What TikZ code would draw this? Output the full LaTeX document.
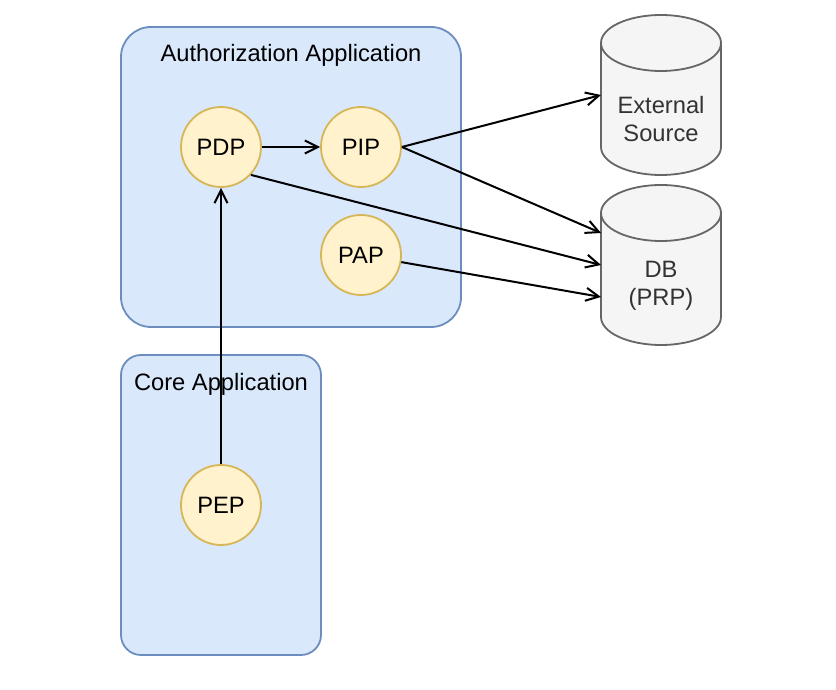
\documentclass[tikz,border=0pt]{standalone}
\usepackage{fontspec}
\setmainfont{Liberation Sans}
\usetikzlibrary{arrows.meta}
\definecolor{boxfill}{HTML}{DAE8FC}
\definecolor{boxline}{HTML}{6C8EBF}
\definecolor{circfill}{HTML}{FFF2CC}
\definecolor{circline}{HTML}{D6B656}
\definecolor{cylfill}{HTML}{F5F5F5}
\definecolor{cylline}{HTML}{666666}
\definecolor{cyltext}{HTML}{333333}
\begin{document}
\begin{tikzpicture}[x=1pt,y=1pt,line width=1.8pt,
  font=\fontsize{23.7}{28}\selectfont,
  app/.style={fill=boxfill,draw=boxline},
  comp/.style={circle,minimum size=80pt,inner sep=0pt,fill=circfill,draw=circline},
  cyl/.style={fill=cylfill,draw=cylline},
  cyltxt/.style={align=center,text=cyltext,inner sep=0pt},
  conn/.style={draw=black,line width=2pt,-{Straight Barb[length=13pt,width=13pt]}}]
\useasboundingbox (0,0) rectangle (836,690);
% containers
\draw[app,rounded corners=30pt] (121,363) rectangle (461,663);
\draw[app,rounded corners=20pt] (121,35) rectangle (321,335);
\node (authtitle) at (291,635) {Authorization Application};
\node (coretitle) at (221,306) {Core Application};
% components
\node[comp] (PDP) at (221,543) {PDP};
\node[comp] (PIP) at (361,543) {PIP};
\node[comp] (PAP) at (361,435) {PAP};
\node[comp] (PEP) at (221,185) {PEP};
% External source cylinder
\draw[cyl] (601,647) -- (601,543) arc[start angle=180,end angle=360,x radius=60,y radius=28]
  -- (721,647) arc[start angle=0,end angle=180,x radius=60,y radius=28] -- cycle;
\draw[draw=cylline] (601,647) arc[start angle=180,end angle=360,x radius=60,y radius=28];
\node[cyltxt] (ext) at (661,571) {External\\Source};
% DB cylinder
\draw[cyl] (601,477) -- (601,373) arc[start angle=180,end angle=360,x radius=60,y radius=28]
  -- (721,477) arc[start angle=0,end angle=180,x radius=60,y radius=28] -- cycle;
\draw[draw=cylline] (601,477) arc[start angle=180,end angle=360,x radius=60,y radius=28];
\node[cyltxt] (db) at (661,404) {DB\\(PRP)};
% connector end points
\coordinate (extin) at (601,595);
\coordinate (dbinA) at (601,457);
\coordinate (dbinB) at (601,425);
\coordinate (dbinC) at (601,393);
% connectors
\draw[conn] (PEP) -- (PDP);
\draw[conn] (PDP) -- (PIP);
\draw[conn] (PIP.east) -- (extin);
\draw[conn] (PIP.east) -- (dbinA);
\draw[conn] (PDP.-43) -- (dbinB);
\draw[conn] (PAP.-10) -- (dbinC);
\end{tikzpicture}
\end{document}
